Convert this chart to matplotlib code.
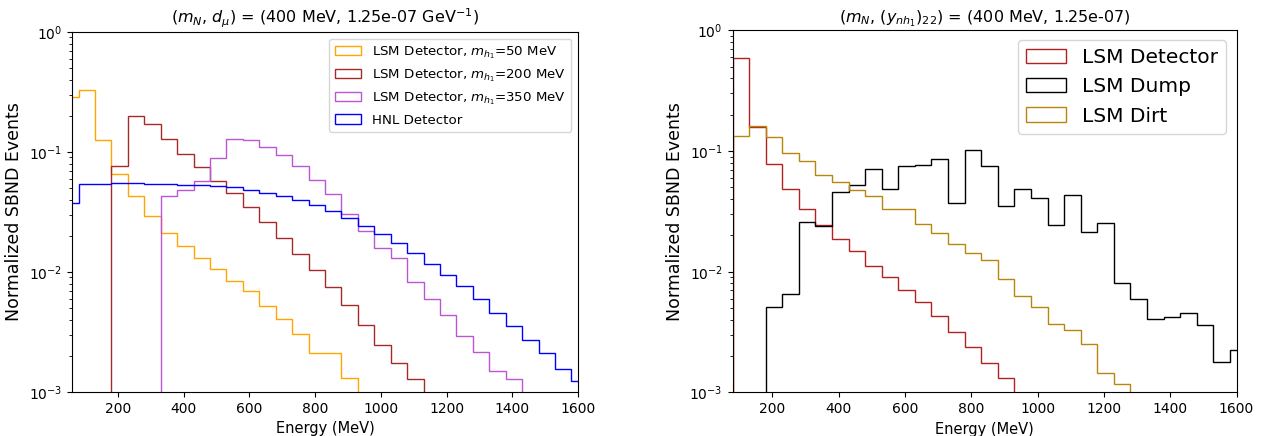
import numpy as np
import matplotlib
matplotlib.use("Agg")
import matplotlib.pyplot as plt

# energy binning (MeV), 50 MeV wide
edges = np.arange(30, 1681, 50)

# left panel: dipole portal, normalized event spectra per bin
lsm_50 = [0.29, 0.33, 0.127, 0.066, 0.0434, 0.0295, 0.0212, 0.0164, 0.0130, 0.0105,
          0.0084, 0.0069, 0.00518, 0.00409, 0.00305, 0.00212, 0.0021, 0.0013, 0, 0,
          0, 0, 0, 0, 0, 0, 0, 0, 0, 0, 0, 0, 0]
lsm_200 = [0, 0, 0, 0.077, 0.20, 0.171, 0.128, 0.096, 0.0755, 0.0577,
           0.0456, 0.0351, 0.0262, 0.0193, 0.0142, 0.0103, 0.0075, 0.0053, 0.0036, 0.00247,
           0.00173, 0.00128, 0, 0, 0, 0, 0, 0, 0, 0, 0, 0, 0]
lsm_350 = [0, 0, 0, 0, 0, 0, 0.0428, 0.0486, 0.057, 0.089,
           0.128, 0.126, 0.111, 0.095, 0.076, 0.059, 0.0448, 0.0305, 0.0219, 0.0158,
           0.0130, 0.0082, 0.0060, 0.00435, 0.00293, 0.00215, 0.0015, 0.00128, 0, 0, 0, 0, 0]
hnl = [0.0374, 0.0538, 0.0545, 0.0548, 0.0548, 0.054, 0.0538, 0.0535, 0.0535, 0.0525,
       0.0508, 0.0486, 0.0456, 0.0428, 0.0401, 0.0362, 0.0321, 0.0282, 0.0244, 0.0209,
       0.0173, 0.0144, 0.0117, 0.0094, 0.0076, 0.0060, 0.00456, 0.00355, 0.00272, 0.0021,
       0.00156, 0.00123, 0.001]

# right panel: Yukawa-type coupling
lsm_det = [0, 0.586, 0.157, 0.078, 0.0486, 0.033, 0.0244, 0.0188, 0.0148, 0.0112,
           0.0090, 0.00704, 0.0056, 0.00429, 0.00318, 0.0024, 0.00177, 0.00132, 0, 0,
           0, 0, 0, 0, 0, 0, 0, 0, 0, 0, 0, 0, 0]
lsm_dump = [0, 0, 0, 0.00515, 0.00656, 0.0256, 0.0241, 0.0456, 0.0527, 0.0715,
            0.0486, 0.0748, 0.0771, 0.0865, 0.037, 0.1015, 0.0753, 0.0353, 0.0482, 0.0407,
            0.0243, 0.0431, 0.0215, 0.0252, 0.0081, 0.00593, 0.00407, 0.00418, 0.00459, 0.00359,
            0.0018, 0.00223, 0.002]
lsm_dirt = [0, 0.133, 0.161, 0.131, 0.097, 0.0828, 0.063, 0.0558, 0.0476, 0.0425,
            0.0332, 0.0332, 0.0251, 0.0208, 0.0169, 0.01426, 0.01256, 0.00873, 0.00635, 0.0051,
            0.0037, 0.00329, 0.00251, 0.00145, 0.00117, 0, 0, 0, 0, 0, 0, 0, 0]

centers = edges[:-1] + 25

fig = plt.figure(figsize=(12.61, 4.36), dpi=100)
ax1 = fig.add_axes([0.0571, 0.1009, 0.4013, 0.8257])
ax2 = fig.add_axes([0.5809, 0.0998, 0.3997, 0.8307])

ax1.hist(centers, bins=edges, weights=lsm_50, histtype='step', color='orange',
         label=r'LSM Detector, $m_{h_1}$=50 MeV')
ax1.hist(centers, bins=edges, weights=lsm_200, histtype='step', color='brown',
         label=r'LSM Detector, $m_{h_1}$=200 MeV')
ax1.hist(centers, bins=edges, weights=lsm_350, histtype='step', color='mediumorchid',
         label=r'LSM Detector, $m_{h_1}$=350 MeV')
ax1.hist(centers, bins=edges, weights=hnl, histtype='step', color='blue',
         label='HNL Detector')
ax1.set_yscale('log')
ax1.set_ylim(1e-3, 1)
ax1.set_xlim(60, 1600)
ax1.set_xticks(np.arange(200, 1601, 200))
ax1.set_xlabel('Energy (MeV)', fontsize=10.5)
ax1.set_ylabel('Normalized SBND Events', fontsize=12.5)
ax1.set_title(r'$(m_N$, $d_\mu)$ = (400 MeV, 1.25e-07 GeV$^{-1}$)', fontsize=11.5)
ax1.legend(loc='upper right', fontsize=9.6)

ax2.hist(centers, bins=edges, weights=lsm_det, histtype='step', color='firebrick',
         label='LSM Detector')
ax2.hist(centers, bins=edges, weights=lsm_dump, histtype='step', color='black',
         label='LSM Dump')
ax2.hist(centers, bins=edges, weights=lsm_dirt, histtype='step', color='darkgoldenrod',
         label='LSM Dirt')
ax2.set_yscale('log')
ax2.set_ylim(1e-3, 1)
ax2.set_xlim(80, 1600)
ax2.set_xticks(np.arange(200, 1601, 200))
ax2.set_xlabel('Energy (MeV)', fontsize=10.5)
ax2.set_ylabel('Normalized SBND Events', fontsize=12.5)
ax2.set_title(r'$(m_N$, $(y_{nh_1})_{22})$ = (400 MeV, 1.25e-07)', fontsize=11.5)
ax2.legend(loc='upper right', fontsize=14.5)

fig.savefig('out.png', dpi=100)
